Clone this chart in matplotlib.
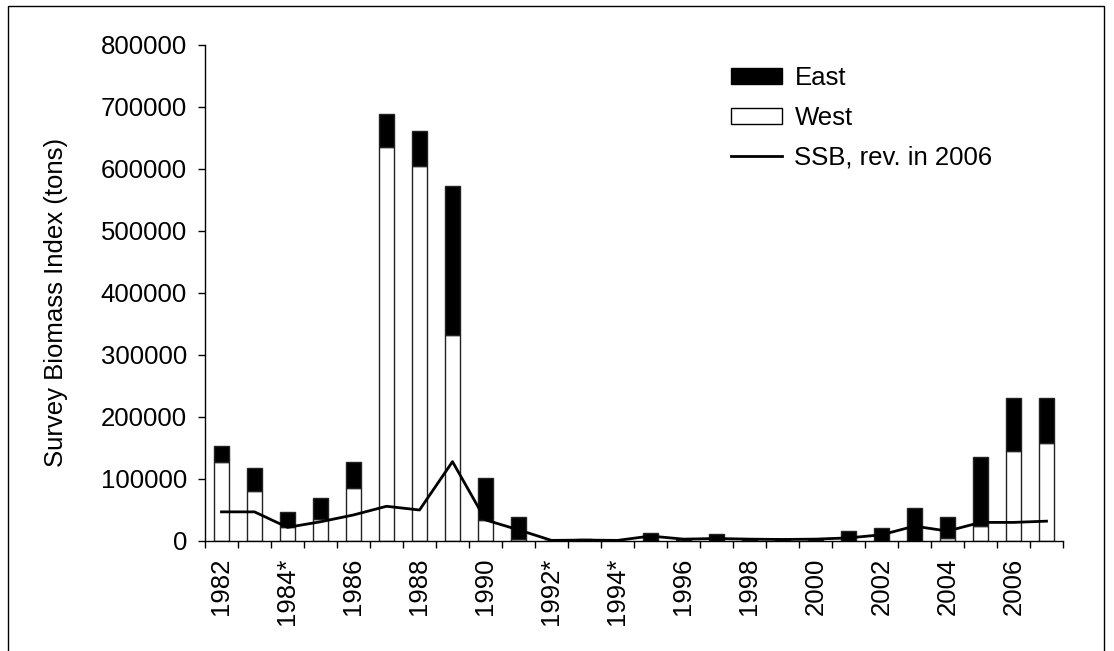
import matplotlib.pyplot as plt
import numpy as np
from matplotlib.patches import Rectangle
from matplotlib.lines import Line2D
from matplotlib.ticker import FuncFormatter

plt.rcParams['font.family'] = ['Liberation Sans', 'DejaVu Sans']

# survey years and biomass index (tons)
years = list(range(1982, 2008))
west = [128000, 81000, 22000, 35000, 85000, 636000, 605000, 332000, 34000, 3000,
        0, 0, 0, 0, 1000, 0, 1000, 1000, 1000, 0,
        0, 0, 5000, 24000, 145000, 158000]
east = [25000, 36000, 24000, 35000, 43000, 53000, 56000, 241000, 68000, 36000,
        0, 4000, 0, 13000, 1000, 11000, 1500, 1500, 1500, 16000,
        21000, 54000, 34000, 111000, 86000, 73000]
ssb = [47000, 47000, 22000, 31000, 42000, 56000, 50000, 128000, 34000, 18000,
       1000, 1500, 1000, 8000, 3000, 4000, 3000, 2500, 3000, 5000,
       10000, 24000, 16000, 30000, 30000, 32000]
year_labels = ['1982', '1984*', '1986', '1988', '1990', '1992*', '1994*',
               '1996', '1998', '2000', '2002', '2004', '2006']

fs = 18.5
fig = plt.figure(figsize=(11.14, 6.51), dpi=100)
ax = fig.add_axes([205 / 1114, 1 - 541 / 651, (1063 - 205) / 1114, (541 - 45) / 651])

x = np.arange(len(years))
ax.bar(x, west, width=0.45, color='white', edgecolor='#222222', linewidth=1, label='West')
ax.bar(x, east, width=0.45, bottom=west, color='black', edgecolor='#222222', linewidth=1, label='East')
ax.plot(x, ssb, color='black', lw=2, label='SSB, rev. in 2006', zorder=3)

ax.set_xlim(-0.5, len(years) - 0.5)
ax.set_ylim(0, 800000)
ax.set_yticks(np.arange(0, 800001, 100000))
ax.yaxis.set_major_formatter(FuncFormatter(lambda v, p: '%d' % v))
ax.tick_params(axis='y', direction='out', length=5, width=1, pad=8, labelsize=fs)

# category boundaries get tick marks, every other year gets a label
ax.set_xticks(np.arange(-0.5, len(years), 1.0))
ax.set_xticklabels([])
ax.set_xticks(np.arange(0, len(years), 2), minor=True)
ax.set_xticklabels(year_labels, minor=True, rotation=90, va='top', ha='center')
ax.tick_params(axis='x', which='major', direction='out', length=5, width=1)
ax.tick_params(axis='x', which='minor', length=0, pad=12, labelsize=fs)

for s in ['top', 'right']:
    ax.spines[s].set_visible(False)
for s in ['left', 'bottom']:
    ax.spines[s].set_linewidth(1)

ax.set_ylabel('Survey Biomass Index (tons)', fontsize=fs)
ax.yaxis.set_label_coords((68 - 205) / 858, 0.48)

handles = [Rectangle((0, 0), 1, 1, facecolor='black', edgecolor='black'),
           Rectangle((0, 0), 1, 1, facecolor='white', edgecolor='black'),
           Line2D([0], [0], color='black', lw=2)]
ax.legend(handles, ['East', 'West', 'SSB, rev. in 2006'], loc='upper left',
          bbox_to_anchor=((731 - 205) / 858, (541 - 66) / 496), frameon=False,
          fontsize=fs, handlelength=2.0, handleheight=0.62, handletextpad=0.47,
          labelspacing=0.62, borderpad=0, borderaxespad=0)

# outer frame around the chart
fig.add_artist(Rectangle((8 / 1114, -0.05), (1104 - 8) / 1114, 1.05 - 6 / 651,
                         transform=fig.transFigure, fill=False, lw=1, edgecolor='black'))

fig.savefig('out.png', dpi=100)
